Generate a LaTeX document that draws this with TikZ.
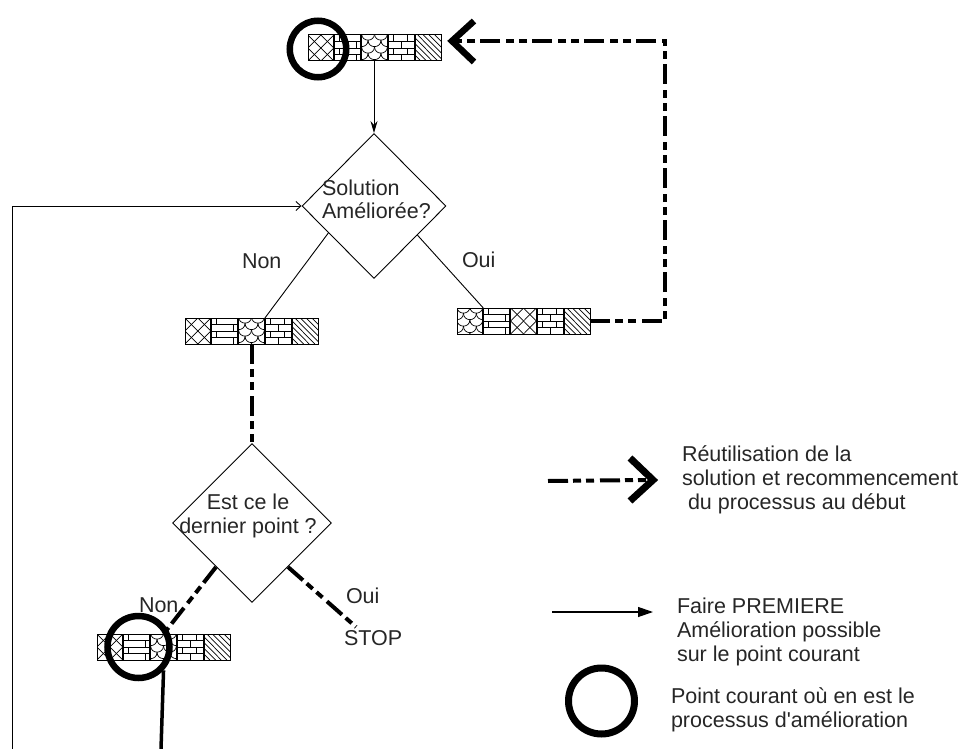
\documentclass[tikz,border=0pt]{standalone}
\usepackage{fontspec}
\setmainfont{Liberation Sans}
\usetikzlibrary{shapes.geometric,arrows.meta,calc}
\newcommand\lines[1]{\begin{tabular}[t]{@{}l@{}}#1\end{tabular}}
\newcommand\clines[1]{\begin{tabular}[t]{@{}c@{}}#1\end{tabular}}
% patterns drawn in the unit square (y up)
\newcommand\ptcross{%
  \foreach \c in {-0.5,0,0.5} {\draw[pat] (\c,0) -- (\c+1,1);}
  \foreach \c in {0.5,1,1.5} {\draw[pat] (\c,0) -- (\c-1,1);}}
\newcommand\pthlin{%
  \foreach \h in {0.25,0.5,0.75} {\draw[pat] (0,\h) -- (1,\h);}
  \draw[pat] (0.84,0) -- (0.84,0.25) (0.16,0.25) -- (0.16,0.5)
             (0.84,0.5) -- (0.84,0.75) (0.16,0.75) -- (0.16,1);}
\newcommand\ptscale{%
  \foreach \yy/\o in {1.05/0, 0.8/-0.25, 0.55/0, 0.3/-0.25, 0.05/0} {
    \foreach \k in {0,1,2} {
      \draw[pat] (\o+\k*0.5,\yy) .. controls (\o+\k*0.5,\yy-0.33) and (\o+\k*0.5+0.5,\yy-0.33) .. (\o+\k*0.5+0.5,\yy);}}}
\newcommand\ptbrick{%
  \foreach \h in {0.25,0.5,0.75} {\draw[pat] (0,\h) -- (1,\h);}
  \draw[pat] (0.5,0) -- (0.5,0.25) (0.2,0.25) -- (0.2,0.5) (0.72,0.25) -- (0.72,0.5)
             (0.5,0.5) -- (0.5,0.75) (0.2,0.75) -- (0.2,1) (0.72,0.75) -- (0.72,1);}
\newcommand\ptdiag{%
  \foreach \k in {1,...,8} {\draw[pat] (\k*0.22-1,1) -- (\k*0.22,0);}}
\newcommand\patcell[2]{%
  \begin{scope}
    \clip (#1.south west) rectangle (#1.north east);
    \begin{scope}[shift={(#1.south west)}, x=25.8pt, y=26pt]#2\end{scope}
  \end{scope}}
\newcommand\mkstrip[8]{%
  \node[cellbox] (#1-1) at (#2,#3) {};
  \node[cellbox] (#1-2) at (#2+26.8,#3) {};
  \node[cellbox] (#1-3) at (#2+53.6,#3) {};
  \node[cellbox] (#1-4) at (#2+80.4,#3) {};
  \node[cellbox] (#1-5) at (#2+107.2,#3) {};
  \patcell{#1-1}{#4}\patcell{#1-2}{#5}\patcell{#1-3}{#6}\patcell{#1-4}{#7}\patcell{#1-5}{#8}%
}
\begin{document}
\begin{tikzpicture}[x=1pt,y=-1pt,
  font=\fontsize{21.5pt}{24pt}\selectfont,
  every node/.style={text=black!85},
  txt/.style={anchor=base west, inner sep=0pt, outer sep=0pt},
  cellbox/.style={draw, line width=1pt, minimum width=25.8pt, minimum height=26pt,
    inner sep=0pt, outer sep=0pt, anchor=north west},
  pat/.style={line width=0.7pt, black},
  thinline/.style={line width=0.9pt, black},
  dd/.style={line width=4pt, black, line cap=butt, line join=miter,
    dash pattern=on 20pt off 5pt on 8pt off 5pt on 8pt off 6pt},
  chev/.style={line width=6.5pt, black, line join=miter, miter limit=10},
  ring/.style={circle, draw, line width=6.5pt, inner sep=0pt},
  dmd/.style={diamond, draw, line width=0.9pt, inner sep=0pt, aspect=1}
]
\useasboundingbox (0,0) rectangle (975,749);

% strips
\mkstrip{top}{308}{35}{\ptcross}{\pthlin}{\ptscale}{\ptbrick}{\ptdiag}
\mkstrip{oui}{457}{308}{\ptscale}{\pthlin}{\ptcross}{\ptbrick}{\ptdiag}
\mkstrip{non}{185}{318}{\ptcross}{\pthlin}{\ptscale}{\ptbrick}{\ptdiag}
\mkstrip{bot}{97}{634}{\ptcross}{\pthlin}{\ptscale}{\ptbrick}{\ptdiag}

% decisions
\node[dmd, minimum width=144pt, minimum height=145pt] (d1) at (374,206) {};
\node[txt] (d1t) at (322,195) {\lines{Solution\\Améliorée?}};
\node[dmd, minimum width=159pt, minimum height=159pt] (d2) at (252,523) {};
\node[anchor=base, inner sep=0pt] (d2t) at (248,509) {\clines{Est ce le\\dernier point ?}};

% labels
\node[txt] (lnon1) at (242,268) {Non};
\node[txt] (loui1) at (462,267) {Oui};
\node[txt] (lnon2) at (139,612) {Non};
\node[txt] (loui2) at (346,603) {Oui};
\node[txt] (stop) at (344,645) {STOP};

% coordinates
\coordinate (tipA) at (452,41);
\coordinate (cB) at (665,41);
\coordinate (lpb) at (12,749);
\coordinate (stopend) at (356,627);
\coordinate (bend) at (161,749);

% connectors
\draw[thinline, -{Stealth[length=12pt,width=7pt]}] (top-3.south -| d1.north) -- (d1.north);
\draw[thinline] ($(d1.west)!0.37!(d1.south)$) -- ($(non-3.north east)!0.5!(non-4.north west)$);
\draw[thinline] ($(d1.east)!0.4!(d1.south)$) -- ($(oui-1.north east)!0.5!(oui-2.north west)$);
\draw[dd] (oui-5.east) -| (cB) -- ($(tipA)+(4,0)$);
\draw[chev] ($(tipA)+(22,-20)$) -- (tipA) -- ($(tipA)+(22,21)$);
\draw[dd] (d2.north |- non-3.south) -- (d2.north);
\draw[dd] ($(d2.west)!0.55!(d2.south)$) -- (bot-3.north);
\draw[dd] ($(d2.east)!0.55!(d2.south)$) -- (stopend);
\draw[thinline, -{Straight Barb[length=5pt,width=9pt]}] (lpb) |- (d1.west);

% current-point circles
\node[ring, minimum size=56.5pt] (ctop) at (318,49) {};
\node[ring, minimum size=62pt] (cbot) at (138.5,647) {};
\draw[line width=3.5pt] (cbot.-43) -- (bend);

% legend
\coordinate (lgA) at (548,481);
\coordinate (tipL) at (653,480);
\draw[dd] (lgA) -- ($(tipL)+(-4,0)$);
\draw[chev, line width=7pt] ($(tipL)+(-23,-22)$) -- (tipL) -- ($(tipL)+(-23,21)$);
\node[txt] (leg1) at (682,461) {\lines{Réutilisation de la\\solution et recommencement\\\hspace*{0.28em}du processus au début}};

\coordinate (la1) at (552,612);
\coordinate (la2) at (653,612);
\draw[line width=1.2pt, -{Triangle[length=15pt,width=10pt]}] (la1) -- (la2);
\node[txt] (leg2) at (677,613) {\lines{Faire PREMIERE\\Amélioration possible\\sur le point courant}};

\node[ring, line width=7pt, minimum size=66pt] (lcirc) at (601.5,701) {};
\node[txt] (leg3) at (671,703) {\lines{Point courant où en est le\\processus d\textquotesingle amélioration}};
\end{tikzpicture}
\end{document}
